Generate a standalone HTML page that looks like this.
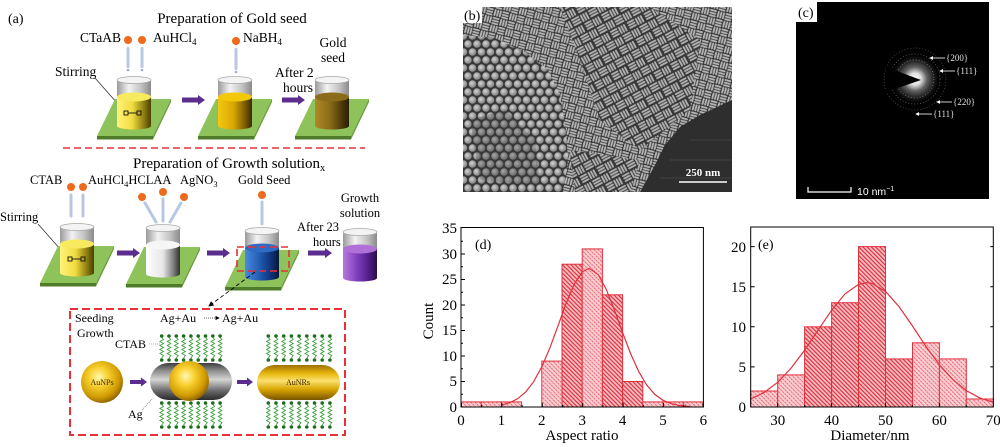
<!DOCTYPE html>
<html><head><meta charset="utf-8"><style>
html,body{margin:0;padding:0;background:#fff;}
body{width:1000px;height:447px;overflow:hidden;}
svg{display:block;}
</style></head><body>
<svg xmlns="http://www.w3.org/2000/svg" width="1000" height="447" viewBox="0 0 1000 447" font-family="'Liberation Serif', serif">
<defs>
<linearGradient id="glass" x1="0" x2="1" y1="0" y2="0"><stop offset="0" stop-color="#9a9a9a"/><stop offset=".35" stop-color="#f2f2f2"/><stop offset=".7" stop-color="#c4c4c4"/><stop offset="1" stop-color="#8a8a8a"/></linearGradient>
<linearGradient id="yl" x1="0" x2="1"><stop offset="0" stop-color="#fff27a"/><stop offset=".45" stop-color="#f0dc40"/><stop offset=".8" stop-color="#8a7a10"/><stop offset="1" stop-color="#4a4000"/></linearGradient>
<linearGradient id="gd" x1="0" x2="1"><stop offset="0" stop-color="#f4c810"/><stop offset=".45" stop-color="#d8a800"/><stop offset=".8" stop-color="#7a5a00"/><stop offset="1" stop-color="#3a2a00"/></linearGradient>
<linearGradient id="br" x1="0" x2="1"><stop offset="0" stop-color="#b08a28"/><stop offset=".45" stop-color="#8a6a18"/><stop offset=".8" stop-color="#4a3808"/><stop offset="1" stop-color="#2a1e04"/></linearGradient>
<linearGradient id="wh" x1="0" x2="1"><stop offset="0" stop-color="#ffffff"/><stop offset=".5" stop-color="#e6e6e6"/><stop offset=".8" stop-color="#808080"/><stop offset="1" stop-color="#303030"/></linearGradient>
<linearGradient id="bl" x1="0" x2="1"><stop offset="0" stop-color="#4a8ae0"/><stop offset=".45" stop-color="#1e5ab0"/><stop offset=".8" stop-color="#0e2e70"/><stop offset="1" stop-color="#081838"/></linearGradient>
<linearGradient id="pu" x1="0" x2="1"><stop offset="0" stop-color="#b878e0"/><stop offset=".45" stop-color="#7a3ab8"/><stop offset=".8" stop-color="#4a1a80"/><stop offset="1" stop-color="#281040"/></linearGradient>
<radialGradient id="au" cx=".42" cy=".38" r=".65"><stop offset="0" stop-color="#fff8b0"/><stop offset=".35" stop-color="#f8d030"/><stop offset=".75" stop-color="#d09a00"/><stop offset="1" stop-color="#8a5e00"/></radialGradient>
<linearGradient id="capG" x1="0" x2="0" y1="0" y2="1"><stop offset="0" stop-color="#3c3c3c"/><stop offset=".2" stop-color="#8a8a8a"/><stop offset=".45" stop-color="#d4d4d4"/><stop offset=".75" stop-color="#6a6a6a"/><stop offset="1" stop-color="#2a2a2a"/></linearGradient>
<linearGradient id="capAu" x1="0" x2="0" y1="0" y2="1"><stop offset="0" stop-color="#a07000"/><stop offset=".25" stop-color="#e8b810"/><stop offset=".45" stop-color="#fce070"/><stop offset=".7" stop-color="#d8a400"/><stop offset="1" stop-color="#7a5200"/></linearGradient>
<radialGradient id="glow" cx=".5" cy=".5" r=".5"><stop offset="0" stop-color="#ffffff"/><stop offset=".25" stop-color="#e0e0e0"/><stop offset=".5" stop-color="#606060"/><stop offset=".8" stop-color="#1a1a1a"/><stop offset="1" stop-color="#000"/></radialGradient>
<radialGradient id="sph" cx=".4" cy=".4" r=".6"><stop offset="0" stop-color="#d4d4d4"/><stop offset="1" stop-color="#808080"/></radialGradient>
<pattern id="rods" width="16" height="16" patternUnits="userSpaceOnUse" patternTransform="rotate(15)">
<rect width="16" height="16" fill="#363636"/>
<g fill="#b4b4b4">
<rect x=".5" y=".5" width="7" height="1.9" rx=".9"/><rect x=".5" y="3.2" width="7" height="1.9" rx=".9"/><rect x=".5" y="5.9" width="7" height="1.9" rx=".9"/>
<rect x="8.5" y=".5" width="1.9" height="7" rx=".9"/><rect x="11.2" y=".5" width="1.9" height="7" rx=".9"/><rect x="13.9" y=".5" width="1.9" height="7" rx=".9"/>
<rect x=".5" y="8.5" width="1.9" height="7" rx=".9"/><rect x="3.2" y="8.5" width="1.9" height="7" rx=".9"/><rect x="5.9" y="8.5" width="1.9" height="7" rx=".9"/>
<rect x="8.5" y="8.5" width="7" height="1.9" rx=".9"/><rect x="8.5" y="11.2" width="7" height="1.9" rx=".9"/><rect x="8.5" y="13.9" width="7" height="1.9" rx=".9"/>
</g></pattern>
<pattern id="rods2" width="19" height="19" patternUnits="userSpaceOnUse" patternTransform="rotate(-28)">
<rect width="19" height="19" fill="#383838"/>
<g fill="#b0b0b0">
<rect x=".5" y=".5" width="9" height="1.9" rx=".9"/><rect x=".5" y="3.3" width="9" height="1.9" rx=".9"/><rect x=".5" y="6.1" width="9" height="1.9" rx=".9"/>
<rect x="10.5" y=".5" width="1.9" height="8" rx=".9"/><rect x="13.3" y=".5" width="1.9" height="8" rx=".9"/><rect x="16.1" y=".5" width="1.9" height="8" rx=".9"/>
<rect x=".5" y="10" width="1.9" height="8" rx=".9"/><rect x="3.3" y="10" width="1.9" height="8" rx=".9"/><rect x="6.1" y="10" width="1.9" height="8" rx=".9"/>
<rect x="10.5" y="10" width="8" height="1.9" rx=".9"/><rect x="10.5" y="12.8" width="8" height="1.9" rx=".9"/><rect x="10.5" y="15.6" width="8" height="1.9" rx=".9"/>
</g></pattern>
<pattern id="sphs" width="9" height="16" patternUnits="userSpaceOnUse">
<rect width="9" height="16" fill="#383838"/>
<circle cx="4.5" cy="4" r="3.8" fill="url(#sph)"/><circle cx="0" cy="12" r="3.8" fill="url(#sph)"/><circle cx="9" cy="12" r="3.8" fill="url(#sph)"/>
</pattern>
<pattern id="hd" width="3" height="3" patternUnits="userSpaceOnUse" patternTransform="rotate(-45)">
<rect width="3" height="3" fill="#f6bcc2"/><line x1="0.5" y1="0" x2="0.5" y2="3" stroke="#dc2a36" stroke-width="1.2"/></pattern>
<pattern id="hl" width="3" height="3" patternUnits="userSpaceOnUse" patternTransform="rotate(-45)">
<rect width="3" height="3" fill="#fad0d5"/><line x1="0.5" y1="0" x2="0.5" y2="3" stroke="#e85a66" stroke-width="0.9" stroke-dasharray="1.2 0.8"/></pattern>
<g id="pf">
<polygon points="-19,19 37,19 19,56 -37,56" fill="#8dc35a"/>
<polygon points="-37,56 19,56 19,59.5 -37,59.5" fill="#4e7c2a"/>
<polygon points="19,56 37,19 37,22 19,59.5" fill="#6b9a3c"/>
</g>
<g id="gl">
<rect x="-17" y="0" width="34" height="24" fill="url(#glass)"/>
<ellipse cx="0" cy="0" rx="17" ry="3.5" fill="#f4f4f4" stroke="#a8a8a8" stroke-width="0.8"/>
</g>
<g id="lig">
<circle cx="0" cy="0" r="1.8" fill="#1e6e1e"/>
<polyline points="0,1.5 1.8,3.5 -1.8,5.5 1.8,7.5 -1.8,9.5 1.8,11.5 -1.8,13.5 1.8,15.5 -1.8,17.5 1.8,19.5 0,22" fill="none" stroke="#3ca03c" stroke-width="0.9"/>
<circle cx="0" cy="24" r="1.8" fill="#1e6e1e"/>
</g>
<g id="rowL"><use href="#lig" x="0"/><use href="#lig" x="7.3"/><use href="#lig" x="14.6"/><use href="#lig" x="21.9"/><use href="#lig" x="29.2"/><use href="#lig" x="36.5"/><use href="#lig" x="43.8"/><use href="#lig" x="51.1"/><use href="#lig" x="58.4"/></g>
<g id="rowR"><use href="#lig" x="0"/><use href="#lig" x="7.7"/><use href="#lig" x="15.4"/><use href="#lig" x="23.1"/><use href="#lig" x="30.8"/><use href="#lig" x="38.5"/><use href="#lig" x="46.2"/><use href="#lig" x="53.9"/><use href="#lig" x="61.6"/></g>
<marker id="ah" markerWidth="6" markerHeight="6" refX="5" refY="3" orient="auto"><path d="M0,0 L6,3 L0,6 z" fill="#000"/></marker>
<marker id="ahw" markerWidth="5" markerHeight="5" refX="4" refY="2.5" orient="auto"><path d="M0,0 L5,2.5 L0,5 z" fill="#fff"/></marker>
</defs>

<!-- ================= Panel (a) ================= -->
<text x="8" y="23" font-size="14">(a)</text>
<text x="232" y="23" font-size="15" text-anchor="middle">Preparation of Gold seed</text>

<g fill="#b8c8e2">
<rect x="126.5" y="47" width="3" height="21" rx="1"/><rect x="140.5" y="47" width="3" height="21" rx="1"/>
<rect x="234.5" y="48" width="3" height="22" rx="1"/>
</g>
<g fill="#9ab0d0"><circle cx="128" cy="70" r="1.3"/><circle cx="142" cy="70" r="1.3"/><circle cx="236" cy="72" r="1.3"/></g>
<g fill="#ee6a1c"><circle cx="128" cy="40" r="4"/><circle cx="142" cy="40" r="4"/><circle cx="236" cy="41" r="4"/></g>
<text x="80" y="42" font-size="13.5">CTaAB</text>
<text x="153" y="42" font-size="13.5">AuHCl<tspan font-size="9" dy="3">4</tspan></text>
<text x="243" y="42" font-size="13.5">NaBH<tspan font-size="9" dy="3">4</tspan></text>
<text x="333" y="47" font-size="13.5" text-anchor="middle">Gold</text>
<text x="333" y="62" font-size="13.5" text-anchor="middle">seed</text>
<text x="55" y="76" font-size="13.5">Stirring</text>
<line x1="95" y1="78" x2="125" y2="112" stroke="#222" stroke-width="0.7"/>
<text x="275" y="77" font-size="13.5">After 2</text>
<text x="283" y="92" font-size="13.5">hours</text>

<g transform="translate(134,80)">
<use href="#pf"/><use href="#gl"/>
<rect x="-17" y="17" width="34" height="29" fill="url(#yl)"/><ellipse cx="0" cy="46" rx="17" ry="3.5" fill="url(#yl)"/><ellipse cx="0" cy="17" rx="17" ry="4.5" fill="#f7ea5e"/>
</g>
<g fill="none" stroke="#111" stroke-width="0.9"><rect x="124" y="111" width="4" height="4"/><rect x="137" y="111" width="4" height="4"/><line x1="128" y1="113" x2="137" y2="113"/></g>
<g transform="translate(235,80)">
<use href="#pf"/><use href="#gl"/>
<rect x="-17" y="17" width="34" height="29" fill="url(#gd)"/><ellipse cx="0" cy="46" rx="17" ry="3.5" fill="url(#gd)"/><ellipse cx="0" cy="17" rx="17" ry="4.5" fill="#f2c808"/>
</g>
<g transform="translate(332,80)">
<use href="#pf"/><use href="#gl"/>
<rect x="-17" y="17" width="34" height="29" fill="url(#br)"/><ellipse cx="0" cy="46" rx="17" ry="3.5" fill="url(#br)"/><ellipse cx="0" cy="17" rx="17" ry="4.5" fill="#8c6c1a"/>
</g>
<g fill="#5b2d8e">
<polygon points="182,97.5 198,97.5 198,95 205,100 198,105 198,102.5 182,102.5"/>
<polygon points="282,97.5 298,97.5 298,95 305,100 298,105 298,102.5 282,102.5"/>
</g>

<line x1="63" y1="148" x2="365" y2="148" stroke="#e8303a" stroke-width="1.6" stroke-dasharray="7 4"/>

<text x="133" y="168" font-size="15">Preparation of Growth solution<tspan font-size="10" dy="3">x</tspan></text>
<text x="30" y="184" font-size="12.5">CTAB</text>
<text x="88" y="184" font-size="12.5">AuHCl<tspan font-size="8.5" dy="3">4</tspan><tspan dy="-3">HCLAA</tspan></text>
<text x="180" y="184" font-size="12.5">AgNO<tspan font-size="8.5" dy="3">3</tspan></text>
<text x="238" y="184" font-size="12.5">Gold Seed</text>
<text x="360" y="202" font-size="12.5" text-anchor="middle">Growth</text>
<text x="360" y="217" font-size="12.5" text-anchor="middle">solution</text>
<text x="0" y="221" font-size="12.5">Stirring</text>
<line x1="38" y1="224" x2="68" y2="258" stroke="#222" stroke-width="0.7"/>
<text x="297" y="231" font-size="12.5">After 23</text>
<text x="313" y="246" font-size="12.5">hours</text>

<g stroke="#b8c8e2" stroke-width="3" stroke-linecap="round">
<line x1="71" y1="195" x2="71" y2="216"/><line x1="83" y1="195" x2="83" y2="216"/>
<line x1="145" y1="203" x2="156" y2="222"/><line x1="163" y1="199" x2="163" y2="221"/><line x1="181" y1="203" x2="170" y2="222"/>
<line x1="262" y1="202" x2="262" y2="224"/>
</g>
<g fill="#ee6a1c"><circle cx="71" cy="187" r="4"/><circle cx="83" cy="187" r="4"/><circle cx="142" cy="197" r="4"/><circle cx="163" cy="192" r="4"/><circle cx="184" cy="197" r="4"/><circle cx="262" cy="195" r="4"/></g>

<g transform="translate(77,227)">
<use href="#pf"/><use href="#gl"/>
<rect x="-17" y="17" width="34" height="29" fill="url(#yl)"/><ellipse cx="0" cy="46" rx="17" ry="3.5" fill="url(#yl)"/><ellipse cx="0" cy="17" rx="17" ry="4.5" fill="#f7ea5e"/>
</g>
<g fill="none" stroke="#111" stroke-width="0.9"><rect x="68" y="257" width="4" height="4"/><rect x="81" y="257" width="4" height="4"/><line x1="72" y1="259" x2="81" y2="259"/></g>
<g transform="translate(163,228)">
<use href="#pf"/><use href="#gl"/>
<rect x="-17" y="17" width="34" height="29" fill="url(#wh)"/><ellipse cx="0" cy="46" rx="17" ry="3.5" fill="url(#wh)"/><ellipse cx="0" cy="17" rx="17" ry="4.5" fill="#f6f6f6"/>
</g>
<g transform="translate(262,231)">
<use href="#pf"/><use href="#gl"/>
<rect x="-17" y="17" width="34" height="29" fill="url(#bl)"/><ellipse cx="0" cy="46" rx="17" ry="3.5" fill="url(#bl)"/><ellipse cx="0" cy="17" rx="17" ry="4.5" fill="#2e6cc4"/>
</g>
<g transform="translate(360,232)">
<use href="#gl"/>
<rect x="-17" y="17" width="34" height="29" fill="url(#pu)"/><ellipse cx="0" cy="46" rx="17" ry="3.5" fill="url(#pu)"/><ellipse cx="0" cy="17" rx="17" ry="4.5" fill="#b070d8"/>
</g>
<g fill="#5b2d8e">
<polygon points="117,250.5 133,250.5 133,248 140,253 133,258 133,255.5 117,255.5"/>
<polygon points="207,250.5 223,250.5 223,248 230,253 223,258 223,255.5 207,255.5"/>
<polygon points="308,250.5 325,250.5 325,248 332,253 325,258 325,255.5 308,255.5"/>
</g>
<rect x="237" y="247" width="52" height="24" fill="none" stroke="#e8303a" stroke-width="1.6" stroke-dasharray="7 4"/>
<line x1="255" y1="272" x2="209" y2="306" stroke="#000" stroke-width="0.9" stroke-dasharray="4 2.5" marker-end="url(#ah)"/>

<rect x="70" y="309" width="275" height="126" fill="none" stroke="#e8303a" stroke-width="2" stroke-dasharray="8 4"/>
<text x="75" y="322" font-size="12">Seeding</text>
<text x="77" y="337" font-size="12">Growth</text>
<text x="160" y="322" font-size="12">Ag+Au</text>
<line x1="204" y1="318" x2="219" y2="318" stroke="#333" stroke-width="0.7" stroke-dasharray="1 1" marker-end="url(#ah)"/>
<text x="222" y="322" font-size="12">Ag+Au</text>
<text x="115" y="348" font-size="12">CTAB</text>
<line x1="149" y1="344" x2="160" y2="344" stroke="#555" stroke-width="0.6" stroke-dasharray="1 1"/>
<text x="128" y="418" font-size="12">Ag</text>
<line x1="142" y1="410" x2="153" y2="398" stroke="#555" stroke-width="0.6" stroke-dasharray="1 1"/>

<use href="#rowL" transform="translate(161.7,336)"/>
<use href="#rowL" transform="translate(161.7,403)"/>
<use href="#rowR" transform="translate(268.3,336)"/>
<use href="#rowR" transform="translate(268.3,403)"/>

<circle cx="102" cy="382" r="21" fill="url(#au)"/>
<text x="102" y="385" font-size="8" text-anchor="middle" fill="#3a2a00">AuNPs</text>
<rect x="150" y="363" width="82" height="37" rx="18.5" fill="url(#capG)"/>
<circle cx="189" cy="381" r="20" fill="url(#au)"/>
<rect x="257" y="365" width="83" height="35" rx="17.5" fill="url(#capAu)"/>
<text x="298" y="385" font-size="8" text-anchor="middle" fill="#3a2a00">AuNRs</text>
<g fill="#5b2d8e">
<polygon points="130,380 141,380 141,377.5 147,382 141,386.5 141,384 130,384"/>
<polygon points="237,380 247,380 247,377.5 253,382 247,386.5 247,384 237,384"/>
</g>

<!-- ================= Panel (b) ================= -->
<rect x="463" y="7" width="269" height="185" fill="url(#rods)"/>
<polygon points="560,7 650,7 700,40 690,110 640,150 600,120 580,60" fill="url(#rods2)"/>
<polygon points="570,150 640,160 630,192 575,192" fill="url(#rods2)"/>
<polygon points="463,35 495,38 525,52 548,70 560,95 566,130 568,160 563,192 463,192" fill="url(#sphs)"/>
<polygon points="470,120 505,110 535,140 540,185 480,180" fill="#3a3a3a" opacity=".3"/>
<polygon points="732,100 700,115 680,127 665,145 655,165 640,192 732,192" fill="#2e2e2e"/>
<g stroke="#3c3c3c" stroke-width="1.5"><line x1="690" y1="140" x2="732" y2="140"/><line x1="670" y1="160" x2="732" y2="160"/><line x1="660" y1="178" x2="732" y2="178"/></g>
<rect x="463" y="7" width="19" height="16" fill="#fff"/>
<text x="464" y="20" font-size="14">(b)</text>
<text x="703" y="176" font-size="11" font-weight="bold" fill="#fff" text-anchor="middle">250 nm</text>
<line x1="679" y1="182" x2="727" y2="182" stroke="#fff" stroke-width="1.5"/>

<!-- ================= Panel (c) ================= -->
<rect x="796" y="2" width="193" height="197" fill="#000"/>
<circle cx="915" cy="79" r="24" fill="url(#glow)"/>
<g fill="none" stroke-dasharray="1.2 1.8">
<circle cx="915" cy="79" r="19" stroke="#7a7a7a" stroke-width="0.7"/>
<circle cx="915" cy="79" r="25" stroke="#606060" stroke-width="0.7"/>
<circle cx="915" cy="79" r="31" stroke="#4a4a4a" stroke-width="0.7"/>
</g>
<polygon points="886,67 886,92 921,80" fill="#000"/>
<g stroke="#fff" stroke-width="0.8">
<line x1="945" y1="58" x2="930" y2="58" marker-end="url(#ahw)"/>
<line x1="955" y1="71" x2="940" y2="71" marker-end="url(#ahw)"/>
<line x1="952" y1="102" x2="937" y2="102" marker-end="url(#ahw)"/>
<line x1="932" y1="114" x2="916" y2="114" marker-end="url(#ahw)"/>
</g>
<g font-size="9" fill="#e0e0e0">
<text x="946" y="61">{200}</text>
<text x="956" y="74">{111}</text>
<text x="953" y="105">{220}</text>
<text x="933" y="117">{111}</text>
</g>
<path d="M808,187 V192 H851 V187" fill="none" stroke="#fff" stroke-width="1.2"/>
<text x="857" y="195" font-size="10.5" fill="#fff" font-family="'Liberation Sans', sans-serif">10 nm<tspan font-size="7" dy="-4">−1</tspan></text>
<rect x="796" y="2" width="21" height="20" fill="#fff"/>
<text x="798" y="17" font-size="14">(c)</text>

<!-- ================= Panel (d) ================= -->
<g stroke="#e0303c" stroke-width="1">
<rect x="461" y="401.9" width="20.2" height="5.1" fill="url(#hl)"/>
<rect x="481.2" y="401.9" width="20.2" height="5.1" fill="url(#hl)"/>
<rect x="501.4" y="401.9" width="20.2" height="5.1" fill="url(#hl)"/>
<rect x="541.8" y="361.1" width="20.2" height="45.9" fill="url(#hl)"/>
<rect x="562" y="264.2" width="20.2" height="142.8" fill="url(#hd)"/>
<rect x="582.2" y="248.9" width="20.2" height="158.1" fill="url(#hl)"/>
<rect x="602.4" y="294.8" width="20.2" height="112.2" fill="url(#hd)"/>
<rect x="622.6" y="381.5" width="20.2" height="25.5" fill="url(#hd)"/>
<rect x="642.8" y="401.9" width="20.2" height="5.1" fill="url(#hl)"/>
<rect x="663" y="401.9" width="20.2" height="5.1" fill="url(#hl)"/>
<rect x="683.2" y="401.9" width="20.2" height="5.1" fill="url(#hl)"/>
</g>
<polyline fill="none" stroke="#e0303c" stroke-width="1.2" points="501.4,405 509.5,402.8 517.6,398.8 525.6,392.1 533.7,381.6 541.8,366.8 549.9,347.8 558,325.9 566,303.6 574.1,284.5 582.2,271.9 589.1,268.3 598.4,274.8 606.4,289.7 614.5,310.1 622.6,332.6 630.7,353.9 638.8,371.7 646.8,385.2 654.9,394.5 663,400.3 671.1,403.6 679.2,405.5 690,406.5"/>
<rect x="461" y="227.5" width="242.4" height="179.5" fill="none" stroke="#000" stroke-width="1"/>
<g stroke="#000" stroke-width="1">
<path d="M461.5,407 v-4 M501.9,407 v-4 M542.3,407 v-4 M582.7,407 v-4 M623.1,407 v-4 M663.5,407 v-4 M703,407 v-4"/>
<path d="M481.7,407 v-2 M522.1,407 v-2 M562.5,407 v-2 M602.9,407 v-2 M643.3,407 v-2 M683.7,407 v-2"/>
<path d="M461,381.5 h4 M461,356 h4 M461,330.5 h4 M461,305 h4 M461,279.5 h4 M461,254 h4 M461,394.2 h2 M461,368.7 h2 M461,343.2 h2 M461,317.7 h2 M461,292.2 h2 M461,266.7 h2 M461,241.2 h2"/>
</g>
<g font-size="15" text-anchor="end">
<text x="457" y="412">0</text><text x="457" y="386">5</text><text x="457" y="361">10</text><text x="457" y="335">15</text><text x="457" y="310">20</text><text x="457" y="284">25</text><text x="457" y="259">30</text><text x="457" y="233">35</text>
</g>
<g font-size="15" text-anchor="middle">
<text x="461" y="425">0</text><text x="501.4" y="425">1</text><text x="541.8" y="425">2</text><text x="582.2" y="425">3</text><text x="622.6" y="425">4</text><text x="663" y="425">5</text><text x="703.4" y="425">6</text>
<text x="582" y="440">Aspect ratio</text>
</g>
<text x="0" y="0" font-size="15" text-anchor="middle" transform="translate(433,321) rotate(-90)">Count</text>
<text x="475" y="249" font-size="14">(d)</text>

<!-- ================= Panel (e) ================= -->
<g stroke="#e0303c" stroke-width="1">
<rect x="750.7" y="391" width="27" height="16" fill="url(#hl)"/>
<rect x="777.7" y="374.9" width="26.9" height="32.1" fill="url(#hl)"/>
<rect x="804.6" y="326.8" width="27" height="80.2" fill="url(#hd)"/>
<rect x="831.6" y="302.7" width="26.9" height="104.3" fill="url(#hd)"/>
<rect x="858.5" y="246.6" width="27" height="160.4" fill="url(#hd)"/>
<rect x="885.5" y="358.9" width="27" height="48.1" fill="url(#hd)"/>
<rect x="912.5" y="342.8" width="26.9" height="64.2" fill="url(#hl)"/>
<rect x="939.4" y="358.9" width="26.9" height="48.1" fill="url(#hl)"/>
<rect x="966.3" y="399" width="27" height="8" fill="url(#hl)"/>
</g>
<polyline fill="none" stroke="#e0303c" stroke-width="1.2" points="750.7,399 764.2,392.4 777.7,382.3 791.1,368.1 804.6,350.3 818.1,330.1 831.6,310.3 845,293.9 858.5,284.4 866.6,282.7 872,283.4 885.5,291.4 899,306.6 912.5,326 925.9,346.4 939.4,364.8 952.9,379.7 966.3,390.6 979.8,397.9 993.3,402.3"/>
<rect x="750.7" y="227" width="242.6" height="180" fill="none" stroke="#000" stroke-width="1"/>
<g stroke="#000" stroke-width="1">
<path d="M777.7,407 v-4 M831.6,407 v-4 M885.5,407 v-4 M939.4,407 v-4 M804.6,407 v-2 M858.5,407 v-2 M912.5,407 v-2 M966.3,407 v-2"/>
<path d="M750.7,366.9 h4 M750.7,326.8 h4 M750.7,286.7 h4 M750.7,246.6 h4"/>
<path d="M993.3,366.9 h-3 M993.3,326.8 h-3 M993.3,286.7 h-3 M993.3,246.6 h-3"/>
</g>
<g font-size="15" text-anchor="end">
<text x="746" y="412">0</text><text x="746" y="372">5</text><text x="746" y="332">10</text><text x="746" y="292">15</text><text x="746" y="252">20</text>
</g>
<g font-size="15" text-anchor="middle">
<text x="777.7" y="425">30</text><text x="831.6" y="425">40</text><text x="885.5" y="425">50</text><text x="939.4" y="425">60</text><text x="993.3" y="425">70</text>
<text x="870" y="440">Diameter/nm</text>
</g>
<text x="758" y="249" font-size="14">(e)</text>
</svg>
</body></html>
